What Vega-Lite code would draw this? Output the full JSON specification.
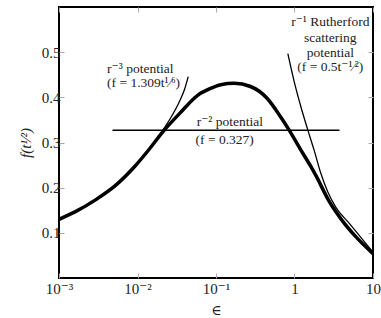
{
  "$schema": "https://vega.github.io/schema/vega-lite/v6.json",
  "autosize": {"type": "none"},
  "padding": {"left": 59, "top": 7, "right": 8, "bottom": 40},
  "width": 314,
  "height": 271,
  "config": {
    "view": {"stroke": "black", "strokeWidth": 2},
    "font": "Liberation Serif, Times New Roman, DejaVu Serif, serif",
    "axis": {
      "domain": false,
      "grid": false,
      "tickColor": "#aaaaaa",
      "tickSize": -5,
      "labelFont": "Liberation Serif, Times New Roman, DejaVu Serif, serif",
      "labelFontSize": 15,
      "labelColor": "#222222",
      "titleFont": "Liberation Serif, Times New Roman, DejaVu Serif, serif",
      "titleColor": "#222222",
      "titleFontWeight": "normal"
    }
  },
  "datasets": {
    "curves": [
      {"series": "universal", "e": 0.001, "f": 0.130},
      {"series": "universal", "e": 0.00162, "f": 0.147},
      {"series": "universal", "e": 0.00292, "f": 0.173},
      {"series": "universal", "e": 0.00525, "f": 0.205},
      {"series": "universal", "e": 0.00933, "f": 0.248},
      {"series": "universal", "e": 0.0141, "f": 0.285},
      {"series": "universal", "e": 0.0204, "f": 0.321},
      {"series": "universal", "e": 0.0347, "f": 0.365},
      {"series": "universal", "e": 0.0589, "f": 0.405},
      {"series": "universal", "e": 0.0832, "f": 0.419},
      {"series": "universal", "e": 0.115, "f": 0.428},
      {"series": "universal", "e": 0.170, "f": 0.431},
      {"series": "universal", "e": 0.275, "f": 0.424},
      {"series": "universal", "e": 0.447, "f": 0.398},
      {"series": "universal", "e": 0.664, "f": 0.357},
      {"series": "universal", "e": 0.851, "f": 0.328},
      {"series": "universal", "e": 1.191, "f": 0.285},
      {"series": "universal", "e": 1.600, "f": 0.248},
      {"series": "universal", "e": 1.884, "f": 0.226},
      {"series": "universal", "e": 2.780, "f": 0.169},
      {"series": "universal", "e": 4.102, "f": 0.126},
      {"series": "universal", "e": 6.067, "f": 0.091},
      {"series": "universal", "e": 10, "f": 0.054},
      {"series": "r3", "e": 0.0126, "f": 0.273},
      {"series": "r3", "e": 0.01445, "f": 0.288},
      {"series": "r3", "e": 0.0204, "f": 0.324},
      {"series": "r3", "e": 0.02594, "f": 0.352},
      {"series": "r3", "e": 0.0347, "f": 0.393},
      {"series": "r3", "e": 0.0398, "f": 0.418},
      {"series": "r3", "e": 0.0443, "f": 0.446},
      {"series": "r1", "e": 0.822, "f": 0.497},
      {"series": "r1", "e": 1.0, "f": 0.432},
      {"series": "r1", "e": 1.216, "f": 0.377},
      {"series": "r1", "e": 1.476, "f": 0.328},
      {"series": "r1", "e": 1.778, "f": 0.283},
      {"series": "r1", "e": 2.143, "f": 0.234},
      {"series": "r1", "e": 2.649, "f": 0.191},
      {"series": "r1", "e": 3.381, "f": 0.156},
      {"series": "r1", "e": 4.989, "f": 0.121},
      {"series": "r1", "e": 6.699, "f": 0.094},
      {"series": "r1", "e": 10, "f": 0.057},
      {"series": "r2", "e": 0.0048, "f": 0.327},
      {"series": "r2", "e": 3.74, "f": 0.327}
    ],
    "labels": [
      {"text": "r⁻² potential", "e": 0.15, "f": 0.345},
      {"text": "(f = 0.327)", "e": 0.129, "f": 0.3055},
      {"text": "r⁻¹ Rutherford", "e": 2.86, "f": 0.567},
      {"text": "scattering", "e": 2.86, "f": 0.531},
      {"text": "potential", "e": 2.86, "f": 0.498},
      {"text": "(f = 0.5t⁻¹⁄²)", "e": 2.86, "f": 0.467}
    ],
    "block": [
      {"text": "r⁻³ potential|(f = 1.309t¹⁄⁶)", "e": 0.0041, "f": 0.462}
    ]
  },
  "resolve": {"axis": {"x": "independent", "y": "independent"}},
  "layer": [
    {
      "data": {"name": "curves"},
      "transform": [{"filter": "datum.series === 'universal'"}],
      "mark": {"type": "line", "color": "black", "strokeWidth": 3.5, "interpolate": "monotone"},
      "encoding": {
        "x": {
          "field": "e", "type": "quantitative",
          "scale": {"type": "log", "domain": [0.001, 10], "nice": false},
          "axis": {
            "orient": "bottom",
            "values": [0.001, 0.01, 0.1, 1, 10],
            "labelExpr": "datum.value < 0.005 ? '10⁻³' : datum.value < 0.05 ? '10⁻²' : datum.value < 0.5 ? '10⁻¹' : datum.value < 5 ? '1' : '10'",
            "labelPadding": 8,
            "labelFlush": false,
            "title": "∈",
            "titleFontSize": 14,
            "titlePadding": 7
          }
        },
        "y": {
          "field": "f", "type": "quantitative",
          "scale": {"domain": [0, 0.6], "nice": false, "zero": false},
          "axis": {
            "orient": "left",
            "values": [0.1, 0.2, 0.3, 0.4, 0.5],
            "format": ".1f",
            "labelPadding": 4,
            "title": "f(t¹⁄²)",
            "titleFontSize": 15,
            "titleFontStyle": "italic",
            "titlePadding": 8
          }
        }
      }
    },
    {
      "data": {"name": "curves"},
      "transform": [{"filter": "datum.series === 'r3' || datum.series === 'r1'"}],
      "mark": {"type": "line", "color": "black", "strokeWidth": 1.3, "interpolate": "monotone"},
      "encoding": {
        "x": {"field": "e", "type": "quantitative", "axis": {"orient": "top", "values": [0.001, 0.01, 0.1, 1, 10], "labels": false, "title": null}},
        "y": {"field": "f", "type": "quantitative", "axis": {"orient": "right", "values": [0.1, 0.2, 0.3, 0.4, 0.5], "labels": false, "title": null}},
        "detail": {"field": "series"}
      }
    },
    {
      "data": {"name": "curves"},
      "transform": [{"filter": "datum.series === 'r2'"}],
      "mark": {"type": "line", "color": "black", "strokeWidth": 1.6},
      "encoding": {
        "x": {"field": "e", "type": "quantitative", "axis": null},
        "y": {"field": "f", "type": "quantitative", "axis": null}
      }
    },
    {
      "data": {"name": "labels"},
      "mark": {"type": "text", "fontSize": 13.5, "color": "#222222", "align": "center", "baseline": "middle"},
      "encoding": {
        "x": {"field": "e", "type": "quantitative", "axis": null},
        "y": {"field": "f", "type": "quantitative", "axis": null},
        "text": {"field": "text"}
      }
    },
    {
      "data": {"name": "block"},
      "mark": {"type": "text", "fontSize": 13.5, "color": "#222222", "align": "left", "baseline": "middle", "lineBreak": "|", "lineHeight": 14},
      "encoding": {
        "x": {"field": "e", "type": "quantitative", "axis": null},
        "y": {"field": "f", "type": "quantitative", "axis": null},
        "text": {"field": "text"}
      }
    }
  ]
}
